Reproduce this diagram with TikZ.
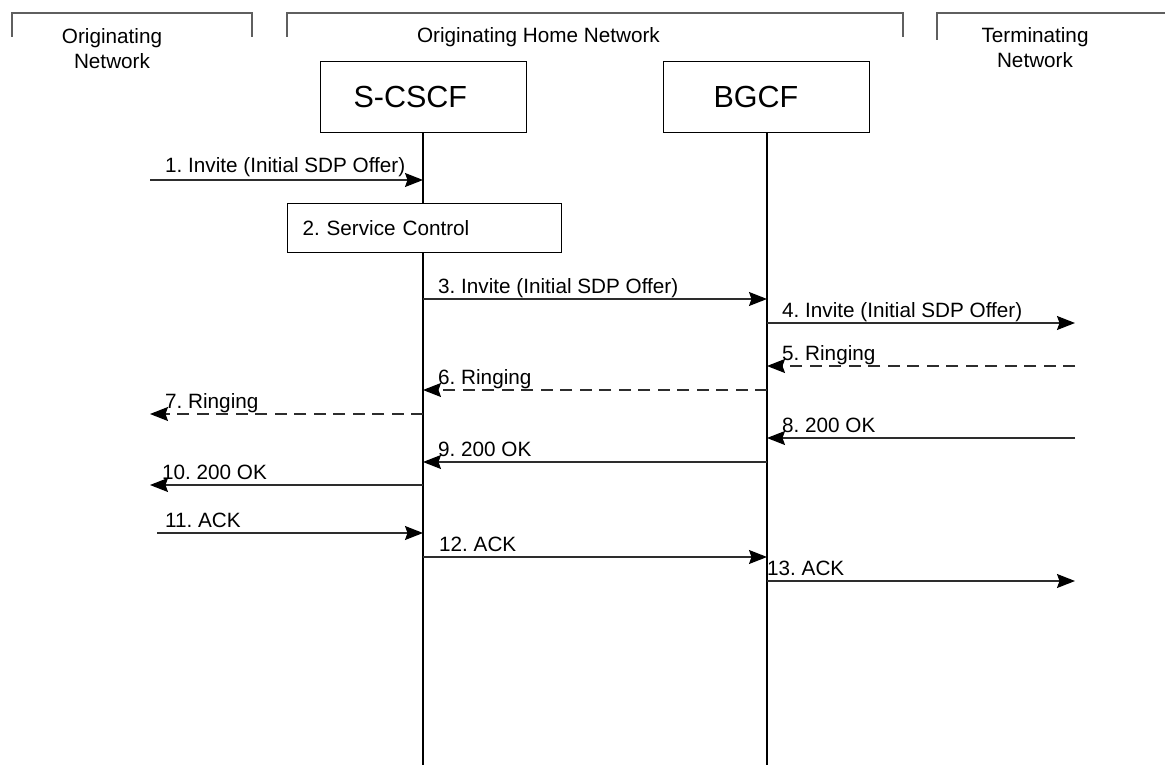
\documentclass[tikz,border=0pt]{standalone}
\usepackage{fontspec}
\setmainfont{Liberation Sans}
\usetikzlibrary{arrows.meta}
\definecolor{brk}{RGB}{95,95,95}
\definecolor{msgc}{RGB}{45,45,45}
\begin{document}
\frenchspacing
\begin{tikzpicture}[x=1pt,y=-1pt,
  lbl/.style={font=\fontsize{20.7}{25}\selectfont, inner sep=0pt, anchor=base west},
  hdr/.style={font=\fontsize{20.7}{25}\selectfont, inner sep=0pt, align=center},
  bracket/.style={draw=brk, line width=1.3pt},
  entity/.style={draw=black, line width=1pt, fill=white, font=\fontsize{30.5}{34}\selectfont, align=left, minimum height=71pt, anchor=north west},
  actbox/.style={draw=black, line width=1pt, fill=white, font=\fontsize{20.7}{25}\selectfont, align=left, minimum height=49pt, anchor=north west, inner xsep=15pt, text width=244pt},
  life/.style={draw=black, line width=1.1pt},
  msg/.style={draw=msgc, line width=1.2pt, -{Stealth[length=18pt,width=14pt,inset=2.5pt,color=black]}},
  dmsg/.style={msg, dash pattern=on 12pt off 7.5pt}
]
\useasboundingbox (0,0) rectangle (1165,765);
\fill[white] (0,0) rectangle (1165,765);

% network brackets
\draw[bracket] (12,37) -- (12,13) -- (252,13) -- (252,37);
\draw[bracket] (287,37) -- (287,13) -- (903,13) -- (903,37);
\draw[bracket] (937,40) -- (937,13) -- (1165,13);
\node[hdr] (orignet) at (112,49) {Originating\\Network};
\node[hdr, anchor=base] (homenet) at (538.5,43) {Originating Home Network};
\node[hdr] (termnet) at (1035,48) {Terminating\\Network};

% lifelines
\coordinate (sbot) at (423,765);
\coordinate (bbot) at (767,765);
\draw[life] (423,132) coordinate (stop) -- (sbot);
\draw[life] (767,132) coordinate (btop) -- (bbot);

% entities
\node[entity, inner xsep=33pt, text width=140pt] (scscf) at (320,61) {S-CSCF};
\node[entity, inner xsep=50pt, text width=106pt] (bgcf) at (663,61) {BGCF};

% service control
\node[actbox] (svc) at (287,203) {2. Service Control};

% message end points
\coordinate (o1) at (150,180);   \coordinate (s1) at (423,180);
\coordinate (s3) at (423,299);   \coordinate (b3) at (767,299);
\coordinate (b4) at (767,323);   \coordinate (t4) at (1075,323);
\coordinate (t5) at (1075,366);  \coordinate (b5) at (767,366);
\coordinate (b6) at (767,390);   \coordinate (s6) at (423,390);
\coordinate (s7) at (423,414);   \coordinate (o7) at (150,414);
\coordinate (t8) at (1075,438);  \coordinate (b8) at (767,438);
\coordinate (b9) at (767,462);   \coordinate (s9) at (423,462);
\coordinate (s10) at (423,485);  \coordinate (o10) at (150,485);
\coordinate (o11) at (157,533);  \coordinate (s11) at (423,533);
\coordinate (s12) at (423,557);  \coordinate (b12) at (767,557);
\coordinate (b13) at (767,581);  \coordinate (t13) at (1075,581);

% messages
\draw[msg] (o1) -- (s1);
\draw[msg] (s3) -- (b3);
\draw[msg] (b4) -- (t4);
\draw[dmsg] (t5) -- (b5);
\draw[dmsg] (b6) -- (s6);
\draw[dmsg] (s7) -- (o7);
\draw[msg] (t8) -- (b8);
\draw[msg] (b9) -- (s9);
\draw[msg] (s10) -- (o10);
\draw[msg] (o11) -- (s11);
\draw[msg] (s12) -- (b12);
\draw[msg] (b13) -- (t13);

% labels
\node[lbl] (l1) at (165,173) {1. Invite (Initial SDP Offer)};
\node[lbl] (l3) at (438,293) {3. Invite (Initial SDP Offer)};
\node[lbl] (l4) at (782,317) {4. Invite (Initial SDP Offer)};
\node[lbl] (l5) at (782,360) {5. Ringing};
\node[lbl] (l6) at (438,384) {6. Ringing};
\node[lbl] (l7) at (165,408) {7. Ringing};
\node[lbl] (l8) at (782,432) {8. 200 OK};
\node[lbl] (l9) at (438,456) {9. 200 OK};
\node[lbl] (l10) at (162,479) {10. 200 OK};
\node[lbl] (l11) at (165,527) {11. ACK};
\node[lbl] (l12) at (439,551) {12. ACK};
\node[lbl] (l13) at (767,575) {13. ACK};
\end{tikzpicture}
\end{document}
